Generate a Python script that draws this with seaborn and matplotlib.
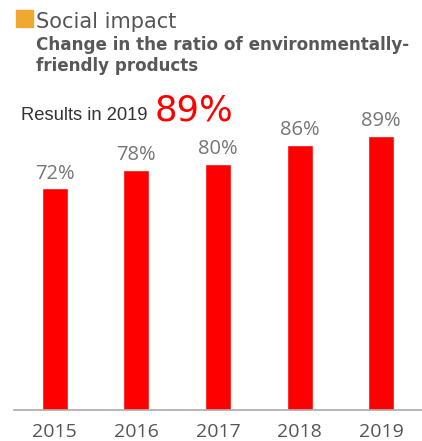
import matplotlib
matplotlib.use("Agg")
import matplotlib.pyplot as plt
import seaborn as sns
import pandas as pd

years = ["2015", "2016", "2017", "2018", "2019"]
values = [72, 78, 80, 86, 89]
labels = ["72%", "78%", "80%", "86%", "89%"]

sns.set_theme(style="white")
plt.rcParams['font.family'] = ['DejaVu Sans']

W, H = 422, 441
fig = plt.figure(figsize=(W / 100, H / 100), dpi=100)

# axes in pixel coordinates
ax_left, ax_right = 14, 422
ax_bottom_px = 410
ymax = 91
px_per_unit = 3.08
ax_top_px = ax_bottom_px - ymax * px_per_unit
ax = fig.add_axes([ax_left / W, (H - ax_bottom_px) / H,
                   (ax_right - ax_left) / W, (ax_bottom_px - ax_top_px) / H])

df = pd.DataFrame({"year": years, "value": values})
sns.barplot(data=df, x="year", y="value", color="#ff0000", saturation=1,
            width=0.32, ax=ax)
ax.set_xlim(-0.5, 4.5)
ax.set_ylim(0, ymax)

for i, (v, lab) in enumerate(zip(values, labels)):
    ax.annotate(lab, (i, v), xytext=(0, 7), textcoords="offset points",
                ha="center", va="baseline", fontsize=14.5, color="#767676",
                family=["Open Sans", "DejaVu Sans"], clip_on=False,
                annotation_clip=False)

for s in ["top", "right", "left"]:
    ax.spines[s].set_visible(False)
ax.spines["bottom"].set_color("#aaaaaa")
ax.spines["bottom"].set_linewidth(1.2)
ax.set_yticks([])
ax.set_xlabel("")
ax.set_ylabel("")
ax.tick_params(axis="x", length=0, pad=9.5, labelsize=14, labelcolor="#555555")
for t in ax.get_xticklabels():
    t.set_family(["Open Sans", "DejaVu Sans"])

# title block
fig.patches.append(plt.Rectangle((16 / W, 1 - 27 / H), 17 / W, 17 / H,
                                 transform=fig.transFigure, color="#f0a830"))
fig.text(36 / W, 1 - 27.5 / H, "Social impact", fontsize=15, color="#555555",
         ha="left", va="baseline")
fig.text(36 / W, 1 - 49.5 / H, "Change in the ratio of environmentally-",
         fontsize=12.1, color="#585858", ha="left", va="baseline", weight="bold")
fig.text(36 / W, 1 - 71 / H, "friendly products",
         fontsize=12.1, color="#585858", ha="left", va="baseline", weight="bold")
fig.text(21 / W, 1 - 120 / H, "Results in 2019", fontsize=13.2, color="#333333",
         ha="left", va="baseline", family=["Liberation Sans", "DejaVu Sans"])
fig.text(155 / W, 1 - 120 / H, "89%", fontsize=25.5, color="#ff0000",
         ha="left", va="baseline")

fig.savefig("out.png", dpi=100)
